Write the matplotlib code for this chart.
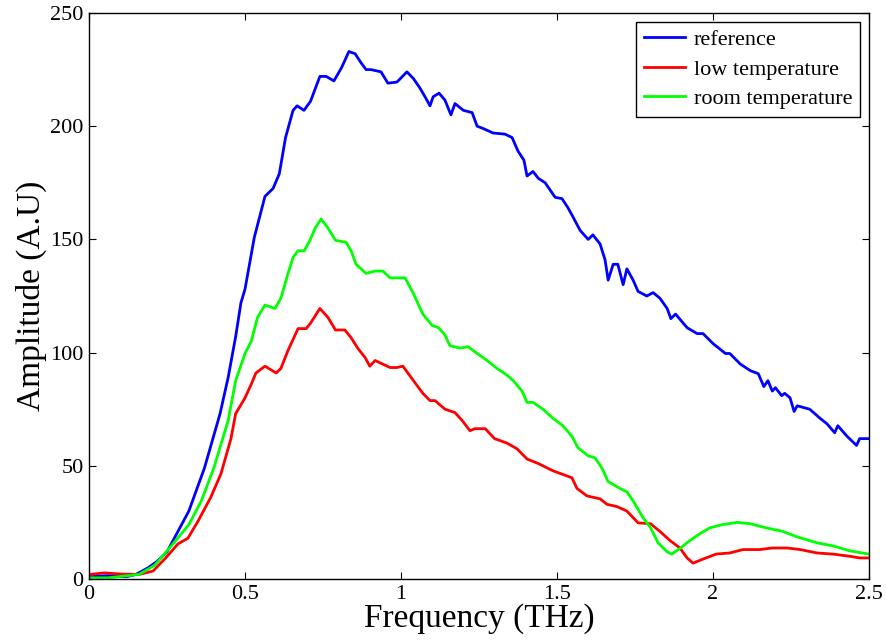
import matplotlib
matplotlib.use("Agg")
import matplotlib.pyplot as plt

plt.rcParams['font.family'] = ['Liberation Serif', 'DejaVu Serif']

ref_x = [0, 0.06, 0.12, 0.15, 0.19, 0.22, 0.25, 0.32, 0.37, 0.42, 0.446, 0.47, 0.487, 0.5, 0.53, 0.564,
         0.59, 0.61, 0.63, 0.654, 0.667, 0.689, 0.71, 0.74, 0.76, 0.785, 0.81, 0.833, 0.853, 0.872,
         0.888, 0.904, 0.936, 0.958, 0.987, 1.019, 1.04, 1.06, 1.077, 1.093, 1.103, 1.122, 1.141,
         1.16, 1.173, 1.2, 1.228, 1.244, 1.263, 1.295, 1.333, 1.356, 1.375, 1.394, 1.404, 1.423,
         1.44, 1.462, 1.494, 1.516, 1.535, 1.551, 1.574, 1.6, 1.615, 1.638, 1.654, 1.664, 1.68,
         1.695, 1.712, 1.724, 1.744, 1.76, 1.788, 1.808, 1.83, 1.853, 1.865, 1.88, 1.917, 1.949,
         1.968, 2.0, 2.04, 2.054, 2.087, 2.12, 2.145, 2.163, 2.176, 2.19, 2.2, 2.22, 2.23, 2.247,
         2.26, 2.27, 2.31, 2.343, 2.365, 2.39, 2.4, 2.43, 2.46, 2.47, 2.5]
ref_y = [1, 1.5, 1, 2, 5, 8, 12, 30, 49, 73, 89, 107, 122, 128, 151, 169,
         172.5, 179, 195, 207, 209, 207, 211, 222, 222, 220, 226, 233, 232, 228,
         225, 225, 224, 219, 219.5, 224, 221, 217, 213, 209, 213, 214.6, 211.5,
         205, 210, 207, 206, 200, 199, 197, 196.5, 195, 189, 185, 178, 180,
         177, 175, 168.6, 168, 164, 160, 154, 150, 152, 148, 141, 132, 139,
         139, 130, 137, 132, 127, 125, 126.5, 124, 119.5, 115, 117, 111, 108.4,
         108.4, 104, 99.6, 99.6, 95, 92, 90.7, 85, 87.6, 83, 84.5, 81, 82, 80,
         74, 76.5, 75, 71, 68.6, 64.6, 67.7, 63, 59, 62, 62]

low_x = [0, 0.05, 0.1, 0.16, 0.205, 0.244, 0.285, 0.317, 0.35, 0.39, 0.423, 0.455, 0.47, 0.5, 0.52,
         0.535, 0.564, 0.6, 0.615, 0.638, 0.67, 0.696, 0.71, 0.74, 0.766, 0.79, 0.82, 0.84, 0.862,
         0.885, 0.9, 0.917, 0.965, 0.987, 1.006, 1.04, 1.07, 1.093, 1.109, 1.141, 1.173, 1.196,
         1.221, 1.237, 1.27, 1.30, 1.34, 1.372, 1.404, 1.44, 1.487, 1.548, 1.564, 1.596, 1.638,
         1.66, 1.692, 1.724, 1.76, 1.8, 1.83, 1.862, 1.894, 1.917, 1.936, 1.968, 2.01, 2.054,
         2.096, 2.15, 2.19, 2.237, 2.28, 2.333, 2.385, 2.44, 2.47, 2.5]
low_y = [2, 2.7, 2.2, 2, 3.5, 9, 15.5, 18, 25.7, 36, 46.5, 62, 73, 80, 86,
         91, 94, 91, 93, 101, 110.6, 110.6, 113, 119.5, 115.5, 110, 110, 106.6, 101.8,
         97.8, 94, 96.5, 93.4, 93.4, 94, 87.6, 82, 78.8, 78.8, 75, 73.5, 70,
         65.5, 66.4, 66.4, 62, 60, 57.5, 53, 51, 47.8, 44.7, 40, 36.7, 35.4,
         33, 32, 30, 24.8, 24.4, 21, 17, 13.7, 9.3, 7, 8.8, 11, 11.5,
         13, 13, 13.7, 13.7, 13, 11.5, 11, 10, 9.3, 9.3]

room_x = [0, 0.06, 0.16, 0.21, 0.26, 0.32, 0.36, 0.40, 0.446, 0.47, 0.5, 0.52, 0.54, 0.564, 0.596,
          0.615, 0.638, 0.654, 0.67, 0.69, 0.708, 0.725, 0.744, 0.766, 0.79, 0.824, 0.84, 0.856,
          0.888, 0.917, 0.942, 0.965, 1.013, 1.04, 1.07, 1.1, 1.12, 1.14, 1.157, 1.19, 1.215,
          1.244, 1.276, 1.308, 1.34, 1.36, 1.388, 1.404, 1.423, 1.455, 1.487, 1.519, 1.548,
          1.567, 1.6, 1.622, 1.644, 1.664, 1.702, 1.724, 1.744, 1.776, 1.8, 1.824, 1.853,
          1.868, 1.894, 1.926, 1.958, 1.99, 2.03, 2.077, 2.12, 2.17, 2.224, 2.27, 2.333,
          2.385, 2.44, 2.5]
room_y = [0.5, 0.5, 2, 6, 14, 24, 34.5, 49, 70, 87.6, 99.6, 105, 115.5, 121, 119.5,
          124, 135, 142, 145, 145, 149.6, 155, 159, 155, 149.6, 148.7, 145, 139,
          135, 136, 136, 133, 133, 126, 117, 112, 111, 108, 103, 102, 102.6,
          99.6, 96.5, 93, 90, 87.6, 83, 78, 78, 75, 71, 67.7, 63,
          58, 54.4, 53.5, 49, 43, 40, 38.5, 34.5, 27, 22.6, 16, 12,
          11, 13.5, 17, 20, 22.6, 24, 25, 24.4, 22.6, 21, 18.6, 16,
          14.6, 12.4, 11]

series_labels = ["reference", "low temperature", "room temperature"]
x_ticks = [0, 0.5, 1, 1.5, 2, 2.5]
x_tick_labels = ["0", "0.5", "1", "1.5", "2", "2.5"]
y_ticks = [0, 50, 100, 150, 200, 250]

fig = plt.figure(figsize=(8.86, 6.43), dpi=100)
ax = fig.add_axes([89/886, 64/643, 780/886, 566/643])

lw = 2.0
ax.plot(ref_x, ref_y, color='#0000ff', lw=lw, label=series_labels[0])
ax.plot(low_x, low_y, color='#ff0000', lw=lw, label=series_labels[1])
ax.plot(room_x, room_y, color='#00ff00', lw=lw, label=series_labels[2])

ax.set_xlim(0, 2.5)
ax.set_ylim(0, 250)
ax.set_xticks(x_ticks)
ax.set_xticklabels(x_tick_labels)
ax.set_yticks(y_ticks)
ax.tick_params(direction='in', length=5, width=0.8, top=True, right=True,
               labelsize=16, pad=4)
for s in ax.spines.values():
    s.set_linewidth(1.0)

ax.set_xlabel("Frequency (THz)", fontsize=24, labelpad=0)
ax.set_ylabel("Amplitude (A.U)", fontsize=24, labelpad=2)

leg = ax.legend(loc='upper right', fontsize=16, frameon=True, fancybox=False,
                edgecolor='black', framealpha=1, handlelength=1.85,
                handletextpad=0.4, labelspacing=0.4, borderaxespad=0.4,
                borderpad=0.35)
leg.get_frame().set_linewidth(1.0)

fig.savefig("out.png", dpi=100)
